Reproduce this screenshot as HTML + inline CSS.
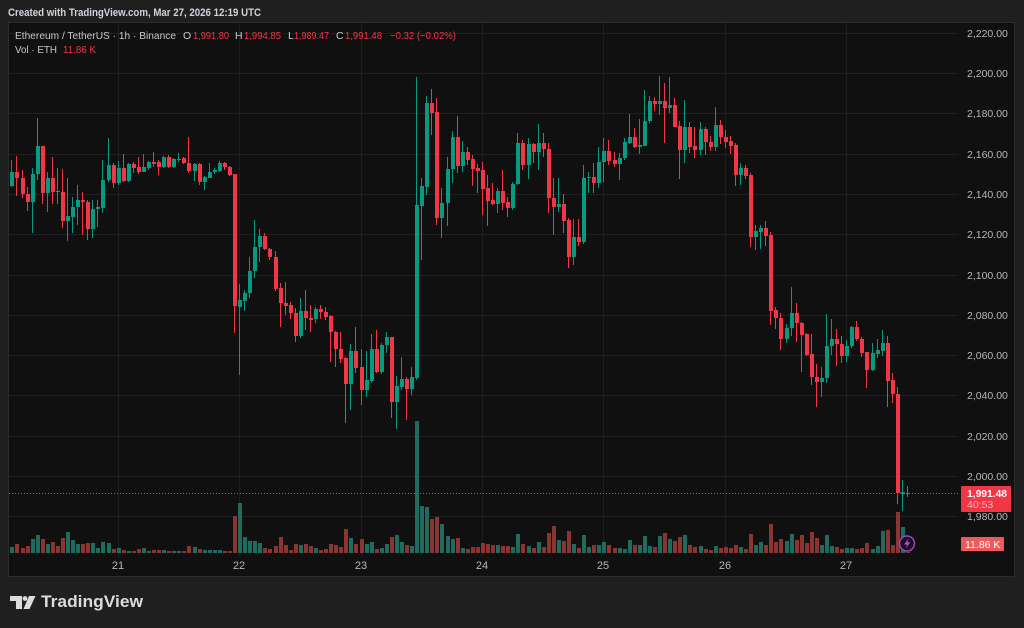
<!DOCTYPE html>
<html><head><meta charset="utf-8"><style>
html,body{margin:0;padding:0;background:#1f1f1f;}
svg{display:block;font-family:"Liberation Sans",sans-serif;}
</style></head><body>
<svg width="1024" height="628" viewBox="0 0 1024 628" xmlns="http://www.w3.org/2000/svg">
<rect x="0" y="0" width="1024" height="628" fill="#1f1f1f"/>
<text x="8" y="16" font-size="11" font-weight="bold" fill="#d1d4dc" textLength="253" lengthAdjust="spacingAndGlyphs">Created with TradingView.com, Mar 27, 2026 12:19 UTC</text>
<rect x="8.5" y="22.5" width="1006" height="554" fill="#101010" stroke="#2c2c2c"/>
<defs><clipPath id="pc"><rect x="9" y="23" width="949" height="533"/></clipPath></defs>
<g stroke="#1f1f1f" stroke-width="1" fill="none">
<path d="M9 33.5H958M9 73.5H958M9 113.5H958M9 154.5H958M9 194.5H958M9 234.5H958M9 275.5H958M9 315.5H958M9 355.5H958M9 395.5H958M9 436.5H958M9 476.5H958M9 516.5H958"/>
<path d="M118.5 23V556M239.5 23V556M361.5 23V556M482.5 23V556M603.5 23V556M725.5 23V556M846.5 23V556"/>
</g>
<g clip-path="url(#pc)">
<path fill="#1f6b5e" d="M10 547h4V553h-4zM31 539h4V553h-4zM36 535h4V553h-4zM46 544h4V553h-4zM66 532h4V553h-4zM71 540h4V553h-4zM76 544h4V553h-4zM91 543h4V553h-4zM96 548h4V553h-4zM101 542h4V553h-4zM107 543h4V553h-4zM117 548h4V553h-4zM127 551h4V553h-4zM142 548h4V553h-4zM147 551h4V553h-4zM162 550h4V553h-4zM172 551h4V553h-4zM177 551h4V553h-4zM193 547h4V553h-4zM203 550h4V553h-4zM208 550h4V553h-4zM213 550h4V553h-4zM218 550h4V553h-4zM238 503h4V553h-4zM243 537h4V553h-4zM248 541h4V553h-4zM253 541h4V553h-4zM258 543h4V553h-4zM299 545h4V553h-4zM314 548h4V553h-4zM349 538h4V553h-4zM365 544h4V553h-4zM370 542h4V553h-4zM380 548h4V553h-4zM385 544h4V553h-4zM395 535h4V553h-4zM400 542h4V553h-4zM410 546h4V553h-4zM415 421h4V553h-4zM420 506h4V553h-4zM425 507h4V553h-4zM440 524h4V553h-4zM446 536h4V553h-4zM451 539h4V553h-4zM461 548h4V553h-4zM496 545h4V553h-4zM511 547h4V553h-4zM516 534h4V553h-4zM527 546h4V553h-4zM537 542h4V553h-4zM557 540h4V553h-4zM572 544h4V553h-4zM582 535h4V553h-4zM587 547h4V553h-4zM597 545h4V553h-4zM602 542h4V553h-4zM618 548h4V553h-4zM623 549h4V553h-4zM628 540h4V553h-4zM638 545h4V553h-4zM643 536h4V553h-4zM648 546h4V553h-4zM658 536h4V553h-4zM668 539h4V553h-4zM683 535h4V553h-4zM699 546h4V553h-4zM714 546h4V553h-4zM739 547h4V553h-4zM754 545h4V553h-4zM759 542h4V553h-4zM785 541h4V553h-4zM790 534h4V553h-4zM820 545h4V553h-4zM825 535h4V553h-4zM830 546h4V553h-4zM845 548h4V553h-4zM850 548h4V553h-4zM871 549h4V553h-4zM876 546h4V553h-4zM881 531h4V553h-4zM901 527h4V553h-4z"/>
<path fill="#8a3532" d="M15 544h4V553h-4zM21 548h4V553h-4zM26 546h4V553h-4zM41 539h4V553h-4zM51 542h4V553h-4zM56 546h4V553h-4zM61 538h4V553h-4zM81 544h4V553h-4zM86 543h4V553h-4zM112 549h4V553h-4zM122 550h4V553h-4zM132 551h4V553h-4zM137 549h4V553h-4zM152 550h4V553h-4zM157 550h4V553h-4zM167 551h4V553h-4zM182 551h4V553h-4zM187 546h4V553h-4zM198 549h4V553h-4zM223 551h4V553h-4zM228 551h4V553h-4zM233 516h4V553h-4zM263 548h4V553h-4zM268 549h4V553h-4zM274 546h4V553h-4zM279 537h4V553h-4zM284 545h4V553h-4zM289 550h4V553h-4zM294 544h4V553h-4zM304 544h4V553h-4zM309 546h4V553h-4zM319 550h4V553h-4zM324 549h4V553h-4zM329 544h4V553h-4zM334 545h4V553h-4zM339 547h4V553h-4zM344 529h4V553h-4zM354 544h4V553h-4zM360 539h4V553h-4zM375 549h4V553h-4zM390 537h4V553h-4zM405 545h4V553h-4zM430 519h4V553h-4zM435 517h4V553h-4zM456 538h4V553h-4zM466 549h4V553h-4zM471 547h4V553h-4zM476 547h4V553h-4zM481 543h4V553h-4zM486 544h4V553h-4zM491 545h4V553h-4zM501 546h4V553h-4zM506 546h4V553h-4zM521 544h4V553h-4zM532 548h4V553h-4zM542 547h4V553h-4zM547 533h4V553h-4zM552 526h4V553h-4zM562 541h4V553h-4zM567 531h4V553h-4zM577 548h4V553h-4zM592 545h4V553h-4zM607 545h4V553h-4zM613 548h4V553h-4zM633 545h4V553h-4zM653 547h4V553h-4zM663 533h4V553h-4zM673 541h4V553h-4zM678 537h4V553h-4zM688 545h4V553h-4zM693 547h4V553h-4zM704 549h4V553h-4zM709 550h4V553h-4zM719 548h4V553h-4zM724 547h4V553h-4zM729 548h4V553h-4zM734 545h4V553h-4zM744 549h4V553h-4zM749 534h4V553h-4zM764 545h4V553h-4zM769 524h4V553h-4zM774 542h4V553h-4zM779 539h4V553h-4zM795 540h4V553h-4zM800 535h4V553h-4zM805 543h4V553h-4zM810 532h4V553h-4zM815 538h4V553h-4zM835 547h4V553h-4zM840 549h4V553h-4zM855 549h4V553h-4zM860 548h4V553h-4zM865 543h4V553h-4zM886 530h4V553h-4zM891 545h4V553h-4zM896 512h4V553h-4zM906 552h4V553h-4z"/>
<path stroke="#089981" stroke-width="1" fill="none" d="M11.5 160V187M32.5 168V233M37.5 118V180M47.5 172V212M67.5 178V241M72.5 197V233M77.5 185V225M92.5 200V238M97.5 200V227M102.5 160V213M108.5 138V182M118.5 161V185M128.5 163V182M143.5 154V172M148.5 161V170M163.5 156V168M173.5 158V168M178.5 153V162M194.5 163V181M204.5 176V190M209.5 163V178M214.5 168V174M219.5 161V172M239.5 284V375M244.5 290V311M249.5 257V298M254.5 220V278M259.5 229V262M300.5 298V338M315.5 307V323M350.5 344V410M366.5 351V397M371.5 334V383M381.5 343V374M386.5 332V353M396.5 376V429M401.5 357V390M411.5 367V395M416.5 77V380M421.5 178V260M426.5 96V195M441.5 188V238M447.5 157V226M452.5 131V183M462.5 141V172M497.5 188V213M512.5 182V210M517.5 133V185M528.5 138V179M538.5 124V170M558.5 178V212M573.5 219V265M583.5 165V244M588.5 172V193M598.5 147V188M603.5 138V182M619.5 153V180M624.5 138V160M629.5 114V144M639.5 119V154M644.5 90V146M649.5 96V123M659.5 76V115M669.5 77V113M684.5 100V163M700.5 122V155M715.5 107V151M740.5 163V185M755.5 225V250M760.5 225V249M786.5 324V343M791.5 287V336M821.5 367V397M826.5 314V383M831.5 319V355M846.5 340V362M851.5 326V348M872.5 343V371M877.5 339V358M882.5 330V356M902.5 480V511"/>
<path fill="#089981" d="M10 172h4v14h-4zM31 174h4v28h-4zM36 146h4v28h-4zM46 178h4v15h-4zM66 216h4v5h-4zM71 207h4v10h-4zM76 200h4v7h-4zM91 209h4v20h-4zM96 207h4v2h-4zM101 180h4v28h-4zM107 165h4v15h-4zM117 168h4v15h-4zM127 164h4v17h-4zM142 167h4v5h-4zM147 162h4v6h-4zM162 157h4v10h-4zM172 159h4v8h-4zM177 159h4v1h-4zM193 164h4v7h-4zM203 177h4v5h-4zM208 172h4v6h-4zM213 170h4v2h-4zM218 163h4v8h-4zM238 300h4v7h-4zM243 293h4v8h-4zM248 271h4v22h-4zM253 247h4v24h-4zM258 236h4v11h-4zM299 311h4v25h-4zM314 309h4v10h-4zM349 351h4v33h-4zM365 380h4v10h-4zM370 349h4v32h-4zM380 345h4v27h-4zM385 337h4v8h-4zM395 386h4v16h-4zM400 379h4v8h-4zM410 377h4v12h-4zM415 205h4v173h-4zM420 186h4v20h-4zM425 103h4v84h-4zM440 203h4v15h-4zM446 169h4v34h-4zM451 137h4v32h-4zM461 152h4v14h-4zM496 191h4v13h-4zM511 184h4v24h-4zM516 143h4v41h-4zM527 144h4v21h-4zM537 143h4v9h-4zM557 204h4v3h-4zM572 237h4v20h-4zM582 178h4v64h-4zM587 177h4v1h-4zM597 162h4v21h-4zM602 151h4v11h-4zM618 158h4v6h-4zM623 142h4v16h-4zM628 137h4v6h-4zM638 145h4v2h-4zM643 121h4v25h-4zM648 101h4v20h-4zM658 101h4v3h-4zM668 105h4v3h-4zM683 127h4v23h-4zM699 129h4v21h-4zM714 125h4v22h-4zM739 168h4v7h-4zM754 231h4v6h-4zM759 228h4v4h-4zM785 328h4v11h-4zM790 313h4v15h-4zM820 378h4v4h-4zM825 346h4v32h-4zM830 339h4v7h-4zM845 346h4v10h-4zM850 327h4v19h-4zM871 353h4v17h-4zM876 350h4v4h-4zM881 343h4v8h-4zM901 492h4v2h-4z"/>
<path stroke="#f23645" stroke-width="1" fill="none" d="M16.5 156V196M22.5 170V198M27.5 187V211M42.5 146V204M52.5 157V204M57.5 168V204M62.5 169V228M82.5 192V235M87.5 200V240M113.5 163V188M123.5 154V182M133.5 162V173M138.5 157V174M153.5 152V167M158.5 160V175M168.5 155V168M183.5 157V164M188.5 137V173M199.5 163V185M224.5 162V170M229.5 166V176M234.5 174V333M264.5 233V250M269.5 248V260M275.5 251V291M280.5 283V327M285.5 282V315M290.5 302V319M295.5 308V342M305.5 290V330M310.5 305V332M320.5 305V319M325.5 307V320M330.5 315V362M335.5 331V367M340.5 332V363M345.5 357V423M355.5 327V373M361.5 349V405M376.5 330V373M391.5 337V418M406.5 377V420M431.5 89V135M436.5 98V225M457.5 116V173M467.5 147V165M472.5 155V186M477.5 164V193M482.5 162V215M487.5 175V226M492.5 183V205M502.5 170V210M507.5 197V217M522.5 140V170M533.5 143V163M543.5 133V157M548.5 143V213M553.5 178V235M563.5 194V233M568.5 218V268M578.5 219V246M593.5 163V193M608.5 140V165M614.5 152V167M634.5 128V148M654.5 97V111M664.5 83V143M674.5 98V127M679.5 121V179M689.5 122V153M694.5 127V158M705.5 127V155M710.5 136V151M720.5 120V144M725.5 130V148M730.5 136V154M735.5 143V186M745.5 165V179M750.5 173V247M765.5 221V246M770.5 232V325M775.5 307V329M780.5 313V350M796.5 303V342M801.5 322V372M806.5 333V356M811.5 334V385M816.5 364V407M836.5 329V366M841.5 336V363M856.5 321V341M861.5 337V357M866.5 352V388M887.5 336V407M892.5 373V403M897.5 387V504M907.5 486V497"/>
<path fill="#f23645" d="M15 172h4v6h-4zM21 178h4v16h-4zM26 194h4v8h-4zM41 146h4v47h-4zM51 178h4v14h-4zM56 191h4v1h-4zM61 192h4v29h-4zM81 200h4v2h-4zM86 202h4v27h-4zM112 165h4v18h-4zM122 168h4v13h-4zM132 164h4v4h-4zM137 167h4v5h-4zM152 162h4v2h-4zM157 162h4v5h-4zM167 157h4v10h-4zM182 158h4v5h-4zM187 163h4v8h-4zM198 164h4v18h-4zM223 163h4v4h-4zM228 167h4v8h-4zM233 174h4v132h-4zM263 236h4v13h-4zM268 249h4v8h-4zM274 257h4v32h-4zM279 288h4v15h-4zM284 303h4v3h-4zM289 305h4v8h-4zM294 313h4v23h-4zM304 311h4v7h-4zM309 318h4v2h-4zM319 309h4v3h-4zM324 312h4v5h-4zM329 316h4v16h-4zM334 332h4v17h-4zM339 349h4v10h-4zM344 358h4v26h-4zM354 351h4v17h-4zM360 367h4v23h-4zM375 349h4v23h-4zM390 337h4v65h-4zM405 379h4v10h-4zM430 103h4v10h-4zM435 112h4v106h-4zM456 137h4v29h-4zM466 152h4v8h-4zM471 159h4v10h-4zM476 168h4v3h-4zM481 170h4v19h-4zM486 188h4v13h-4zM491 200h4v4h-4zM501 191h4v12h-4zM506 202h4v6h-4zM521 143h4v22h-4zM532 144h4v8h-4zM542 143h4v6h-4zM547 149h4v49h-4zM552 198h4v9h-4zM562 204h4v17h-4zM567 220h4v37h-4zM577 237h4v5h-4zM592 177h4v6h-4zM607 151h4v10h-4zM613 160h4v4h-4zM633 137h4v10h-4zM653 101h4v3h-4zM663 101h4v7h-4zM673 105h4v22h-4zM678 126h4v24h-4zM688 127h4v20h-4zM693 146h4v4h-4zM704 129h4v13h-4zM709 142h4v5h-4zM719 125h4v12h-4zM724 137h4v5h-4zM729 141h4v5h-4zM734 145h4v30h-4zM744 168h4v8h-4zM749 175h4v62h-4zM764 228h4v8h-4zM769 235h4v76h-4zM774 310h4v8h-4zM779 318h4v21h-4zM795 313h4v10h-4zM800 323h4v12h-4zM805 334h4v21h-4zM810 354h4v23h-4zM815 377h4v5h-4zM835 339h4v5h-4zM840 344h4v12h-4zM855 327h4v12h-4zM860 339h4v14h-4zM865 352h4v18h-4zM886 343h4v38h-4zM891 380h4v14h-4zM896 394h4v99h-4zM906 493h4v1h-4z"/>
<path d="M9 493.5H958" stroke="#f23645" stroke-width="1" stroke-dasharray="1 2"/>
</g>
<g font-size="10.5" fill="#c9c9c9">
<text x="15" y="39" textLength="161" lengthAdjust="spacingAndGlyphs">Ethereum / TetherUS · 1h · Binance</text>
<text x="183" y="39">O</text><text x="193" y="39" fill="#f23645" textLength="36" lengthAdjust="spacingAndGlyphs">1,991.80</text>
<text x="235" y="39">H</text><text x="244" y="39" fill="#f23645" textLength="37" lengthAdjust="spacingAndGlyphs">1,994.85</text>
<text x="288" y="39">L</text><text x="294" y="39" fill="#f23645" textLength="35" lengthAdjust="spacingAndGlyphs">1,989.47</text>
<text x="336" y="39">C</text><text x="345" y="39" fill="#f23645" textLength="37" lengthAdjust="spacingAndGlyphs">1,991.48</text>
<text x="390" y="39" fill="#f23645" textLength="66" lengthAdjust="spacingAndGlyphs">−0.32 (−0.02%)</text>
<text x="15" y="53" textLength="42" lengthAdjust="spacingAndGlyphs">Vol · ETH</text><text x="63" y="53" fill="#f23645" textLength="33" lengthAdjust="spacingAndGlyphs">11.86 K</text>
</g>
<g font-size="10.5" fill="#b8b8b8">
<text x="967" y="37">2,220.00</text>
<text x="967" y="77">2,200.00</text>
<text x="967" y="117">2,180.00</text>
<text x="967" y="158">2,160.00</text>
<text x="967" y="198">2,140.00</text>
<text x="967" y="238">2,120.00</text>
<text x="967" y="279">2,100.00</text>
<text x="967" y="319">2,080.00</text>
<text x="967" y="359">2,060.00</text>
<text x="967" y="399">2,040.00</text>
<text x="967" y="440">2,020.00</text>
<text x="967" y="480">2,000.00</text>
<text x="967" y="520">1,980.00</text>
</g>
<rect x="961" y="486" width="50" height="26" rx="1" fill="#f23645"/>
<text x="967" y="497" font-size="10.5" font-weight="bold" fill="#ffffff" textLength="40" lengthAdjust="spacingAndGlyphs">1,991.48</text>
<text x="967" y="508" font-size="10.5" fill="#f9b3b9">40:53</text>
<rect x="961" y="537" width="43" height="14" rx="1" fill="#f0595b"/>
<text x="965" y="548" font-size="10.5" fill="#ffffff">11.86 K</text>
<circle cx="907" cy="543.5" r="7.5" fill="#1b1020" stroke="#9646bf" stroke-width="1.5"/>
<path d="M908.5 538.5L904 544.5H907L905.8 548.5L910.2 542.3H907.3Z" fill="#a855d0"/>
<g font-size="11" fill="#b8b8b8" text-anchor="middle">
<text x="118" y="569">21</text>
<text x="239" y="569">22</text>
<text x="361" y="569">23</text>
<text x="482" y="569">24</text>
<text x="603" y="569">25</text>
<text x="725" y="569">26</text>
<text x="846" y="569">27</text>
</g>
<g fill="#dcdcdc">
<path d="M10 596H22V609H16V601H10Z"/>
<circle cx="25" cy="598.5" r="2.4"/>
<path d="M29 596H35.5L29.5 609H23.5Z"/>
</g>
<text x="41" y="607" font-size="17" font-weight="bold" fill="#dcdcdc" textLength="102" lengthAdjust="spacingAndGlyphs">TradingView</text>
</svg>
</body></html>
